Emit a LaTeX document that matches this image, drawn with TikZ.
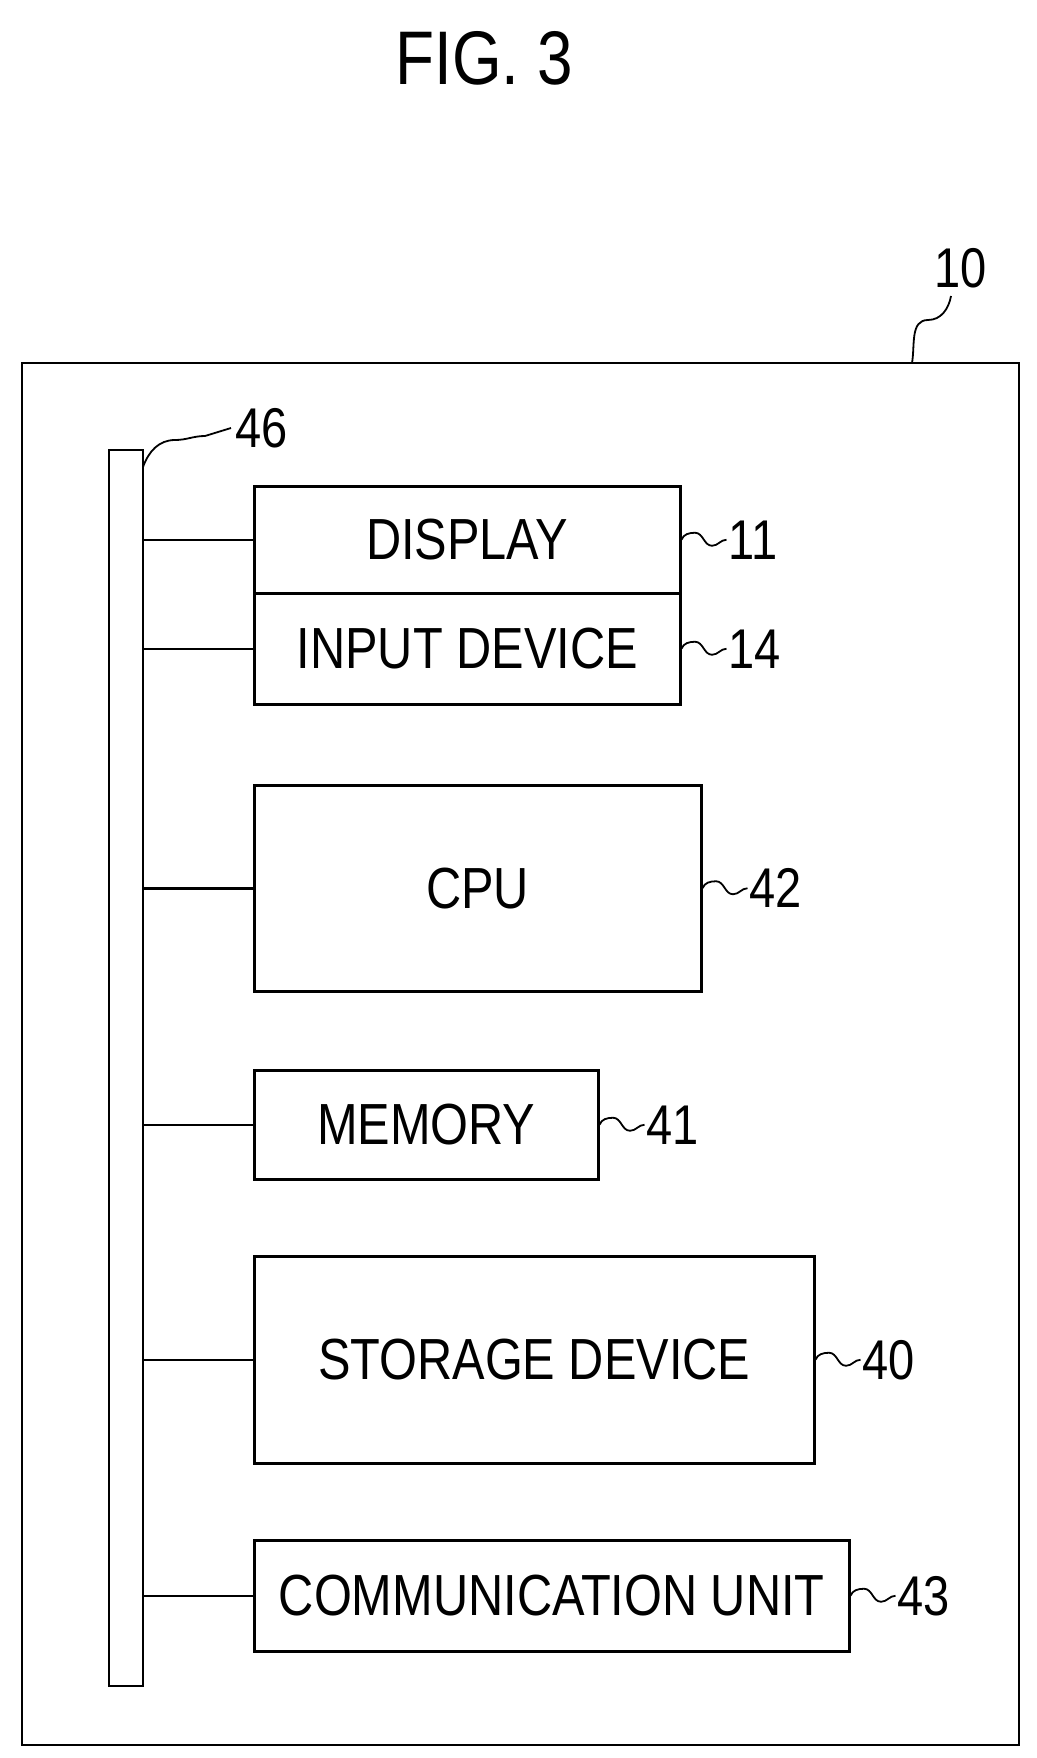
\documentclass[tikz,border=0pt]{standalone}
\usepackage{fontspec}
\setmainfont{Liberation Sans}[FakeStretch=0.84]
\usetikzlibrary{calc}
\tikzset{
  blk/.style={draw, line width=2.5pt, inner sep=0pt, anchor=north west, font=\fontsize{58}{60}\selectfont},
  num/.style={font=\fontsize{56}{58}\selectfont, anchor=west, inner sep=2pt},
  link/.style={line width=2.5pt},
  wave/.style={line width=1.8pt}
}
\newcommand{\squig}[2]{%
  \draw[wave] (#1) to[out=70,in=180] ($(#1)!0.3!(#2)+(0,-7)$) to[out=0,in=180] ($(#1)!0.68!(#2)+(0,6)$) to[out=0,in=180] (#2);}
\begin{document}
\begin{tikzpicture}[x=1pt,y=-1pt]
\useasboundingbox (0,0) rectangle (1036,1758);
\node[font=\fontsize{76}{78}\selectfont] (title) at (484,58) {FIG. 3};
% housing
\draw[line width=2.8pt] (22,363) rectangle (1019,1745);
\node[num] (n10) at (932,268) {10};
\coordinate (t10) at (912,363);
\draw[wave] (t10) to[out=80,in=180] (928,320) to[out=0,in=-100] (951,296);
% bus
\draw[line width=2.5pt] (109,450) rectangle (143,1686);
\coordinate (bus) at (143,450);
\node[num] (n46) at (233,428) {46};
\coordinate (t46) at (143,467);
\draw[wave] (t46) to[out=70,in=180] (175,440) to[out=0,in=180] (205,436) -- (231,428);
% blocks
\node[blk, minimum width=426pt, minimum height=107pt] (disp) at (253,485) {DISPLAY};
\node[blk, minimum width=426pt, minimum height=111pt] (inp) at (253,592) {INPUT DEVICE};
\node[blk, minimum width=447pt, minimum height=206pt] (cpu) at (253,784) {CPU};
\node[blk, minimum width=344pt, minimum height=109pt] (mem) at (253,1069) {MEMORY};
\node[blk, minimum width=560pt, minimum height=207pt] (stor) at (253,1255) {STORAGE DEVICE};
\node[blk, minimum width=595pt, minimum height=111pt] (comm) at (253,1539) {COMMUNICATION UNIT};
% reference numerals
\foreach \b/\n in {disp/11, inp/14, cpu/42, mem/41, stor/40, comm/43}{
  \node[num] (n\n) at ($(\b.east)+(45,0)$) {\n};
  \squig{\b.east}{n\n.west}
  \draw[link] (\b.west) -- (\b.west -| bus);
}
\end{tikzpicture}
\end{document}
